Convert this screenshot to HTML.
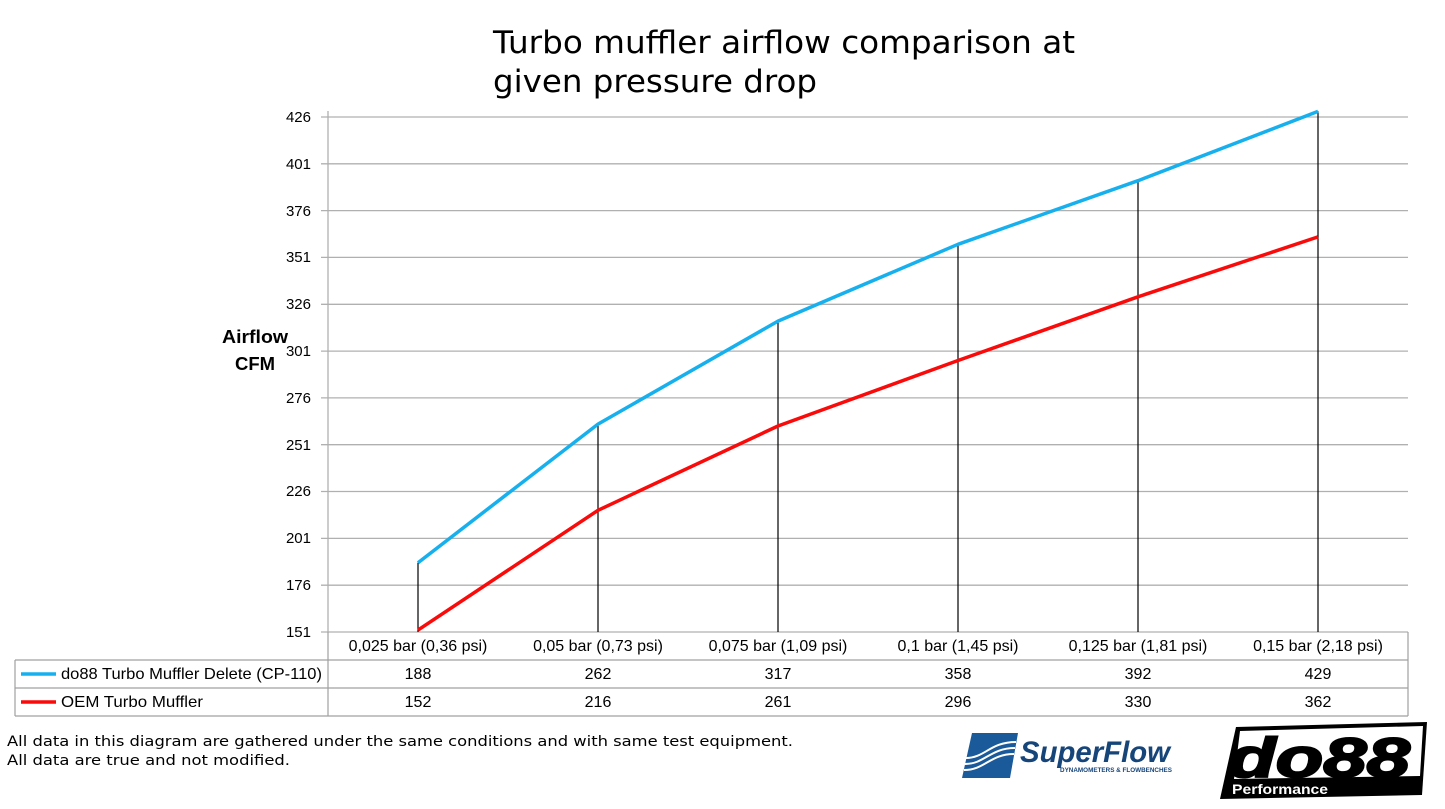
<!DOCTYPE html>
<html><head><meta charset="utf-8"><style>
html,body{margin:0;padding:0;background:#fff;}
svg{display:block;font-family:"Liberation Sans",sans-serif;}
</style></head><body>
<svg width="1445" height="809" viewBox="0 0 1445 809">
<g font-family="DejaVu Sans, sans-serif" font-size="31" fill="#000">
<text x="493" y="53" textLength="582" lengthAdjust="spacingAndGlyphs">Turbo muffler airflow comparison at</text>
<text x="493" y="92" textLength="324" lengthAdjust="spacingAndGlyphs">given pressure drop</text>
</g>
<g stroke="#b0b0b0" stroke-width="1.3">
<line x1="321" y1="632" x2="1408" y2="632"/>
<line x1="321" y1="585.2" x2="1408" y2="585.2"/>
<line x1="321" y1="538.4" x2="1408" y2="538.4"/>
<line x1="321" y1="491.5" x2="1408" y2="491.5"/>
<line x1="321" y1="444.7" x2="1408" y2="444.7"/>
<line x1="321" y1="397.9" x2="1408" y2="397.9"/>
<line x1="321" y1="351.1" x2="1408" y2="351.1"/>
<line x1="321" y1="304.3" x2="1408" y2="304.3"/>
<line x1="321" y1="257.4" x2="1408" y2="257.4"/>
<line x1="321" y1="210.6" x2="1408" y2="210.6"/>
<line x1="321" y1="163.8" x2="1408" y2="163.8"/>
<line x1="321" y1="117" x2="1408" y2="117"/>
<line x1="328" y1="111" x2="328" y2="632"/>
</g>
<g font-size="15" fill="#000" text-anchor="end">
<text x="311" y="637">151</text><text x="311" y="590">176</text><text x="311" y="543">201</text>
<text x="311" y="496">226</text><text x="311" y="450">251</text><text x="311" y="403">276</text>
<text x="311" y="356">301</text><text x="311" y="309">326</text><text x="311" y="262">351</text>
<text x="311" y="216">376</text><text x="311" y="169">401</text><text x="311" y="122">426</text>
</g>
<text x="222" y="343" font-size="18" font-weight="bold" textLength="66" lengthAdjust="spacingAndGlyphs">Airflow</text>
<text x="235" y="370" font-size="18" font-weight="bold" textLength="40" lengthAdjust="spacingAndGlyphs">CFM</text>
<g stroke="#000" stroke-width="1.2">
<line x1="418" y1="562.7" x2="418" y2="632"/><line x1="598" y1="424.1" x2="598" y2="632"/>
<line x1="778" y1="321.1" x2="778" y2="632"/><line x1="958" y1="244.3" x2="958" y2="632"/>
<line x1="1138" y1="180.7" x2="1138" y2="632"/><line x1="1318" y1="111.4" x2="1318" y2="632"/>
</g>
<polyline points="418,562.7 598,424.1 778,321.1 958,244.3 1138,180.7 1318,111.4" fill="none" stroke="#17b0ee" stroke-width="3.5" stroke-linejoin="round"/>
<polyline points="418,630.1 598,510.3 778,426 958,360.5 1138,296.8 1318,236.9" fill="none" stroke="#fb0a0a" stroke-width="3.5" stroke-linejoin="round"/>
<g stroke="#a0a0a0" stroke-width="1.2" fill="none">
<line x1="15" y1="660" x2="1408" y2="660"/>
<line x1="15" y1="688" x2="1408" y2="688"/>
<line x1="15" y1="716" x2="1408" y2="716"/>
<line x1="15" y1="660" x2="15" y2="716"/>
<line x1="328" y1="632" x2="328" y2="716"/>
<line x1="1408" y1="632" x2="1408" y2="716"/>
</g>
<line x1="21" y1="674" x2="56" y2="674" stroke="#17b0ee" stroke-width="3.5"/>
<line x1="21" y1="702" x2="56" y2="702" stroke="#fb0a0a" stroke-width="3.5"/>
<g font-size="16" fill="#000">
<text x="61" y="679" textLength="261" lengthAdjust="spacingAndGlyphs">do88 Turbo Muffler Delete (CP-110)</text>
<text x="61" y="707" textLength="142" lengthAdjust="spacingAndGlyphs">OEM Turbo Muffler</text>
</g>
<g font-size="16" fill="#000" text-anchor="middle">
<text x="418" y="651">0,025 bar (0,36 psi)</text><text x="598" y="651">0,05 bar (0,73 psi)</text>
<text x="778" y="651">0,075 bar (1,09 psi)</text><text x="958" y="651">0,1 bar (1,45 psi)</text>
<text x="1138" y="651">0,125 bar (1,81 psi)</text><text x="1318" y="651">0,15 bar (2,18 psi)</text>
<text x="418" y="679">188</text><text x="598" y="679">262</text><text x="778" y="679">317</text>
<text x="958" y="679">358</text><text x="1138" y="679">392</text><text x="1318" y="679">429</text>
<text x="418" y="707">152</text><text x="598" y="707">216</text><text x="778" y="707">261</text>
<text x="958" y="707">296</text><text x="1138" y="707">330</text><text x="1318" y="707">362</text>
</g>
<g font-family="DejaVu Sans, sans-serif" font-size="14.5" fill="#000">
<text x="7" y="746" textLength="786" lengthAdjust="spacingAndGlyphs">All data in this diagram are gathered under the same conditions and with same test equipment.</text>
<text x="7" y="765" textLength="283" lengthAdjust="spacingAndGlyphs">All data are true and not modified.</text>
</g>
<!-- SuperFlow logo -->
<path d="M972,733 L1018,733 L1010,778 L962,778 Z" fill="#1a5a9a"/>
<g stroke="#fff" stroke-width="2" fill="none">
<path d="M966,758 C985,758 990,742 1016,742"/>
<path d="M965,764 C985,764 990,748 1015,748"/>
<path d="M964,770 C985,770 990,754 1014,754"/>
</g>
<text x="1020" y="762" font-size="30" font-weight="bold" font-style="italic" fill="#16457a" textLength="150" lengthAdjust="spacingAndGlyphs">SuperFlow</text>
<text x="1060" y="772" font-size="6" font-weight="bold" fill="#16457a" textLength="112" lengthAdjust="spacingAndGlyphs">DYNAMOMETERS &amp; FLOWBENCHES</text>
<!-- do88 logo -->
<polygon points="1236,727 1427,722 1422,795 1220,799" fill="#000"/>
<polygon points="1240,731 1423,726 1420,776 1234,779" fill="#fff"/>
<text x="1228" y="777" font-size="56" font-weight="900" font-style="italic" fill="#000" textLength="182" lengthAdjust="spacingAndGlyphs" stroke="#000" stroke-width="2">do88</text>
<text x="1232" y="794" font-size="14" font-weight="bold" fill="#fff" textLength="96" lengthAdjust="spacingAndGlyphs">Performance</text>
</svg>
</body></html>
